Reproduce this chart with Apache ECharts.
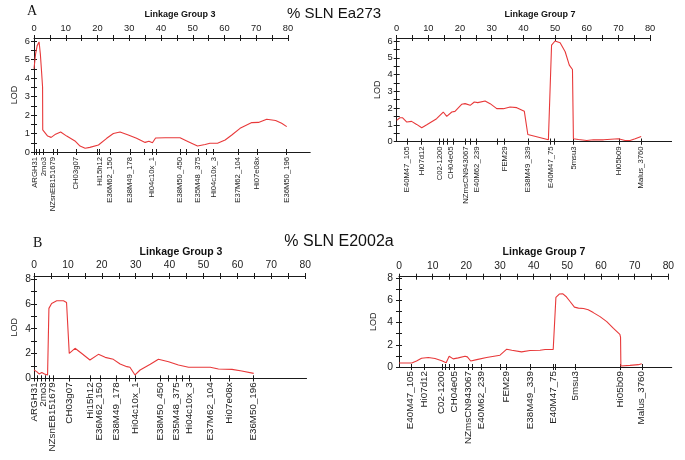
<!DOCTYPE html>
<html><head><meta charset="utf-8">
<script src="https://cdn.jsdelivr.net/npm/echarts@6/dist/echarts.min.js"></script>
<style>html,body{margin:0;padding:0;background:#fff}#c{width:685px;height:460px}</style>
</head><body><div id="c"></div>
<script>
// ---------------- DATA ----------------
// Panel A (% SLN Ea273), Linkage Group 3
const lg3A_pos = [0, 0.5, 1.0, 1.6, 2.0, 2.4, 2.7, 2.75, 4.3, 5.4, 6.6, 8.4, 10.3, 12.9, 14.5, 16.1, 17.6, 20.3, 22.9, 25.0, 27.1, 29.7, 32.3, 35.0, 36.2, 37.3, 38.3, 41.3, 46.0, 48.6, 51.5, 53.9, 55.4, 57.8, 60.2, 62.3, 64.9, 68.6, 70.7, 73.3, 76.1, 78.0, 79.6];
const lg3A_lod = [4.5, 5.3, 5.75, 5.95, 5.3, 4.3, 3.5, 1.2, 0.86, 0.79, 0.94, 1.08, 0.86, 0.6, 0.32, 0.2, 0.25, 0.38, 0.74, 1.0, 1.08, 0.92, 0.74, 0.52, 0.58, 0.5, 0.76, 0.77, 0.77, 0.56, 0.32, 0.41, 0.47, 0.47, 0.65, 0.92, 1.28, 1.59, 1.6, 1.77, 1.7, 1.55, 1.37];
const lg3A_ticks = [0.2, 0.8, 1.5, 2.9, 6.0, 7.3, 13.2, 19.9, 20.6, 24.0, 30.2, 34.8, 37.2, 38.4, 46.0, 48.0, 51.7, 54.2, 56.5, 64.2, 70.3, 79.6];
const lg3A_mpos = [0.3, 3.0, 6.0, 13.2, 20.6, 24.0, 30.2, 37.2, 46.0, 51.7, 56.5, 64.2, 70.3, 79.6];
// Panel A, Linkage Group 7
const lg7A_pos = [0, 1.0, 1.8, 3.2, 4.7, 6.3, 7.9, 9.5, 12.6, 14.7, 15.8, 17.4, 18.4, 20.5, 21.6, 23.2, 24.5, 25.6, 27.9, 29.5, 31.6, 33.7, 35.8, 37.9, 40.3, 41.4, 47.9, 48.9, 50.0, 51.6, 53.2, 54.5, 55.5, 55.8, 57.4, 60.0, 62.1, 65.3, 70.0, 72.1, 73.7, 75.3, 77.2];
const lg7A_lod = [1.26, 1.42, 1.42, 1.16, 1.2, 1.02, 0.82, 1.0, 1.36, 1.76, 1.5, 1.76, 1.8, 2.22, 2.26, 2.16, 2.36, 2.32, 2.42, 2.26, 1.96, 1.96, 2.06, 2.02, 1.8, 0.42, 0.1, 5.76, 6.0, 5.9, 5.36, 4.56, 4.3, 0.16, 0.12, 0.06, 0.1, 0.1, 0.16, 0.06, 0.06, 0.16, 0.3];
const lg7A_ticks = [3.2, 7.8, 13.5, 14.8, 16.0, 17.9, 21.7, 23.2, 25.2, 31.6, 34.1, 41.5, 48.6, 49.7, 55.8, 70.3, 77.2];
const lg7A_mpos = [3.2, 7.8, 13.5, 17.0, 21.7, 25.2, 34.1, 41.5, 48.6, 55.8, 70.3, 77.2];
// Panel B (% SLN E2002a), Linkage Group 3
const lg3B_pos = [0, 0.8, 1.5, 2.3, 3.1, 4.0, 4.4, 5.2, 6.7, 8.7, 9.6, 10.4, 12.1, 14.1, 16.5, 19.0, 21.0, 23.4, 25.4, 27.4, 28.3, 29.8, 31.3, 34.3, 36.7, 39.7, 42.6, 45.6, 52.0, 54.4, 58.4, 61.3, 64.8];
const lg3B_lod = [0.67, 0.54, 0.35, 0.46, 0.35, 0.27, 5.64, 6.04, 6.25, 6.25, 6.12, 2.01, 2.42, 2.0, 1.48, 1.93, 1.69, 1.53, 1.15, 0.94, 0.89, 0.27, 0.67, 1.13, 1.53, 1.34, 1.07, 0.89, 0.89, 0.75, 0.72, 0.59, 0.4];
const lg3B_ticks = [0.2, 0.9, 2.0, 3.2, 4.5, 5.6, 10.4, 16.5, 19.4, 24.4, 28.1, 29.9, 37.2, 39.5, 41.9, 43.6, 45.8, 52.1, 57.5, 64.7];
const lg3B_mpos = [0.2, 2.7, 5.3, 10.4, 16.5, 19.4, 24.4, 29.9, 37.2, 41.9, 45.8, 52.1, 57.5, 64.7];
// Panel B, Linkage Group 7
const lg7B_pos = [0, 3.8, 5.2, 6.7, 8.7, 10.7, 12.7, 14.0, 14.9, 16.1, 17.6, 19.6, 20.3, 21.3, 23.1, 26.0, 30.0, 32.0, 33.5, 36.4, 38.9, 41.9, 43.4, 45.8, 46.6, 47.6, 48.6, 49.6, 50.8, 52.1, 53.3, 54.8, 56.2, 57.7, 59.7, 61.7, 63.7, 65.6, 65.8, 65.9, 68.6, 71.1, 72.1];
const lg7B_lod = [0.36, 0.36, 0.54, 0.79, 0.85, 0.76, 0.57, 0.39, 0.97, 0.73, 0.82, 0.97, 0.91, 0.54, 0.66, 0.85, 1.06, 1.6, 1.51, 1.36, 1.48, 1.51, 1.57, 1.57, 6.25, 6.56, 6.59, 6.34, 5.89, 5.38, 5.29, 5.26, 5.14, 4.89, 4.53, 4.08, 3.47, 2.93, 2.66, 0.09, 0.15, 0.21, 0.3];
const lg7B_ticks = [3.5, 7.6, 12.7, 13.8, 14.8, 16.3, 20.5, 21.8, 24.5, 30.0, 31.9, 38.9, 45.7, 46.4, 52.4, 65.7, 72.1];
const lg7B_mpos = [3.5, 7.6, 12.7, 16.3, 20.5, 24.5, 31.9, 38.9, 45.7, 52.4, 65.7, 72.1];

const lg3_names = ['ARGH31','2mo3','NZsnEB151679','CH03g07','Hi15h12','E36M62_150','E38M49_178','Hi04c10x_1','E38M50_450','E35M48_375','Hi04c10x_3','E37M62_104','Hi07e08x','E36M50_196'];
const lg7_names = ['E40M47_105','Hi07d12','C02-1200','CH04e05','NZmsCN943067','E40M62_239','FEM29','E38M49_339','E40M47_75','5msu3','Hi05b09','Malus_3760'];

const topTicks = [0,5,10,15,20,25,30,35,40,45,50,55,60,65,70,75,80];
const topLabels = [0,10,20,30,40,50,60,70,80];
const yTicksA = [0,0.5,1,1.5,2,2.5,3,3.5,4,4.5,5,5.5,6];
const yLabelsA = [0,1,2,3,4,5,6];
const yTicksB = [0,1,2,3,4,5,6,7,8];
const yLabelsB = [0,2,4,6,8];

// ---------------- LAYOUT ----------------
const FONT = 'Liberation Sans';
const AX = '#1a1a1a';
const panels = [
  {pos:lg3A_pos, lod:lg3A_lod, ticks:lg3A_ticks, mpos:lg3A_mpos, names:lg3_names, yT:yTicksA, yL:yLabelsA, title:'Linkage Group 3',
   x0:34, xs:3.175, xEnd:87, y0:152, ys:18.5, top:38, tx:180, ty:15, tfs:9, afs:9.3, mfs:7.7, mMargin:5, nameGap:14.5, yMargin:4, topMargin:5},
  {pos:lg7A_pos, lod:lg7A_lod, ticks:lg7A_ticks, mpos:lg7A_mpos, names:lg7_names, yT:yTicksA, yL:yLabelsA, title:'Linkage Group 7',
   x0:396.7, xs:3.167, xEnd:86.8, y0:141.5, ys:16.75, top:38, tx:540, ty:15, tfs:9, afs:9.3, mfs:7.7, mMargin:5, nameGap:15, yMargin:4, topMargin:5},
  {pos:lg3B_pos, lod:lg3B_lod, ticks:lg3B_ticks, mpos:lg3B_mpos, names:lg3_names, yT:yTicksB, yL:yLabelsB, title:'Linkage Group 3',
   x0:34, xs:3.39, xEnd:80.4, y0:378.3, ys:12.4, top:276, tx:181, ty:252, tfs:10.5, afs:10.3, mfs:9.8, mMargin:4, nameGap:15, yMargin:3, topMargin:6},
  {pos:lg7B_pos, lod:lg7B_lod, ticks:lg7B_ticks, mpos:lg7B_mpos, names:lg7_names, yT:yTicksB, yL:yLabelsB, title:'Linkage Group 7',
   x0:399, xs:3.367, xEnd:81, y0:367, ys:11.125, top:276.7, tx:544, ty:252, tfs:10.5, afs:10.3, mfs:9.8, mMargin:4, nameGap:21, yMargin:6, topMargin:6}
];

const option = {animation:false, backgroundColor:'#fff', grid:[], xAxis:[], yAxis:[], series:[], graphic:[]};
const tickStyle = {color:AX, width:1};
panels.forEach(p => {
  const gPlot = option.grid.length;
  option.grid.push({left:p.x0, top:p.top, width:p.xEnd*p.xs, height:p.y0-p.top, containLabel:false, outerBoundsMode:'none'});
  const gTop = option.grid.length;
  option.grid.push({left:p.x0, top:p.top, width:80*p.xs, height:20, containLabel:false, outerBoundsMode:'none'});
  const nameAt = v => { for (let k=0;k<p.mpos.length;k++) if (Math.abs(p.mpos[k]-v)<1e-6) return p.names[k]; return ''; };
  const evenPos = p.mpos.filter((v,k)=>k%2===0);
  const oddPos = p.mpos.filter((v,k)=>k%2===1);
  const mLabel = vals => ({show:true, customValues:vals, rotate:90, margin:p.mMargin, fontSize:p.mfs, color:'#222', fontFamily:FONT,
      showMinLabel:true, showMaxLabel:true, hideOverlap:false, formatter:nameAt});
  const xb = option.xAxis.length;
  option.xAxis.push({type:'value', gridIndex:gPlot, position:'bottom', offset:0, min:0, max:p.xEnd,
    axisLine:{show:true, onZero:false, lineStyle:{color:AX, width:1}}, splitLine:{show:false},
    axisTick:{show:true, customValues:p.ticks, length:3, lineStyle:tickStyle},
    axisLabel:mLabel(evenPos)});
  option.xAxis.push({type:'value', gridIndex:gPlot, position:'bottom', offset:0, min:0, max:p.xEnd,
    axisLine:{show:false, onZero:false}, splitLine:{show:false},
    axisTick:{show:true, customValues:p.ticks, length:3, lineStyle:tickStyle},
    axisLabel:mLabel(oddPos)});
  option.xAxis.push({type:'value', gridIndex:gPlot, position:'bottom', offset:0, min:0, max:p.xEnd,
    axisLine:{show:false, onZero:false}, splitLine:{show:false},
    axisTick:{show:true, inside:true, customValues:p.ticks, length:3, lineStyle:tickStyle}, axisLabel:{show:false}});
  option.xAxis.push({type:'value', gridIndex:gTop, position:'top', offset:0, min:0, max:80,
    axisLine:{show:true, onZero:false, lineStyle:{color:AX, width:1}}, splitLine:{show:false},
    axisTick:{show:true, customValues:topTicks, length:3, lineStyle:tickStyle},
    axisLabel:{show:true, customValues:topLabels, margin:p.topMargin, fontSize:p.afs, color:'#222', fontFamily:FONT, showMinLabel:true, showMaxLabel:true}});
  option.xAxis.push({type:'value', gridIndex:gTop, position:'top', offset:0, min:0, max:80,
    axisLine:{show:false, onZero:false}, splitLine:{show:false},
    axisTick:{show:true, inside:true, customValues:topTicks, length:3, lineStyle:tickStyle}, axisLabel:{show:false}});
  const yb = option.yAxis.length;
  const ymax = (p.y0-p.top)/p.ys;
  option.yAxis.push({type:'value', gridIndex:gPlot, position:'left', offset:0, min:0, max:ymax,
    axisLine:{show:true, onZero:false, lineStyle:{color:AX, width:1}}, splitLine:{show:false},
    axisTick:{show:true, customValues:p.yT, length:3, lineStyle:tickStyle},
    axisLabel:{show:true, customValues:p.yL, margin:p.yMargin, fontSize:p.afs, color:'#222', fontFamily:FONT, showMinLabel:true, showMaxLabel:true},
    name:'LOD', nameLocation:'middle', nameGap:p.nameGap, nameRotate:90,
    nameTextStyle:{fontSize:9, color:'#222', fontFamily:FONT}});
  option.yAxis.push({type:'value', gridIndex:gPlot, position:'left', offset:0, min:0, max:ymax,
    axisLine:{show:false, onZero:false}, splitLine:{show:false},
    axisTick:{show:true, inside:true, customValues:p.yT, length:3, lineStyle:tickStyle}, axisLabel:{show:false}});
  option.yAxis.push({type:'value', gridIndex:gTop, show:false, min:0, max:1});
  option.series.push({type:'line', xAxisIndex:xb, yAxisIndex:yb, symbol:'none', silent:true,
    data:p.pos.map((x,k)=>[x,p.lod[k]]), lineStyle:{color:'#e8393a', width:1.1}});
  option.graphic.push({type:'text', x:p.tx, y:p.ty, style:{text:p.title, fill:'#111', font:'bold '+p.tfs+'px "'+FONT+'"', textAlign:'center', textVerticalAlign:'middle'}});
});
option.graphic.push(
  {type:'text', x:27, y:11, style:{text:'A', fill:'#111', font:'14px "Liberation Serif"', textAlign:'left', textVerticalAlign:'middle'}},
  {type:'text', x:33, y:243, style:{text:'B', fill:'#111', font:'14px "Liberation Serif"', textAlign:'left', textVerticalAlign:'middle'}},
  {type:'text', x:334, y:14, style:{text:'% SLN Ea273', fill:'#111', font:'15px "Liberation Sans"', textAlign:'center', textVerticalAlign:'middle'}},
  {type:'text', x:339, y:242, style:{text:'% SLN E2002a', fill:'#111', font:'16px "Liberation Sans"', textAlign:'center', textVerticalAlign:'middle'}}
);
const chart = echarts.init(document.getElementById('c'), null, {renderer:'canvas'});
chart.setOption(option);
</script>
</body></html>
